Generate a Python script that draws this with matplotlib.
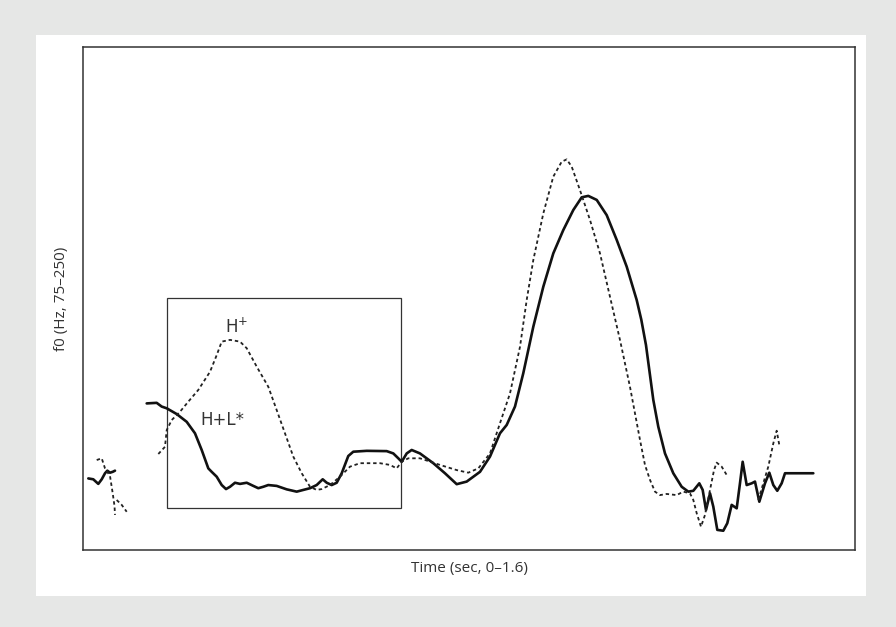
import matplotlib
matplotlib.use('Agg')
import matplotlib.pyplot as plt
import numpy as np
from matplotlib.patches import Rectangle

plt.rcParams['font.family'] = ['Open Sans', 'DejaVu Sans']
plt.rcParams['mathtext.fontset'] = 'dejavusans'

# solid contour (two pieces), time in sec, f0 in Hz
solid_t1 = [0.011, 0.0213, 0.0317, 0.0388, 0.0456, 0.0504, 0.056, 0.0616, 0.0663]
solid_f1 = [99.9, 99.6, 98.0, 99.6, 101.7, 102.6, 101.9, 102.2, 102.6]

solid_t2 = [0.1320, 0.1527, 0.1631, 0.1735, 0.1942, 0.2149, 0.2321, 0.2460, 0.2597, 0.2667,
            0.2771, 0.2875, 0.2964, 0.3047, 0.3150, 0.3254, 0.3393, 0.3530, 0.3633, 0.3737,
            0.3840, 0.4014, 0.4222, 0.4429, 0.4566, 0.4705, 0.4843, 0.4968, 0.5051, 0.5154,
            0.5258, 0.5362, 0.5498, 0.5602, 0.5880, 0.6294, 0.6431, 0.6535, 0.6605, 0.6709,
            0.6812, 0.6984, 0.7260, 0.7502, 0.7745, 0.7952, 0.8228, 0.8435, 0.8642, 0.8781,
            0.8953, 0.9125, 0.9333, 0.9540, 0.9747, 0.9954, 1.0162, 1.0336, 1.0472, 1.0647,
            1.0854, 1.1061, 1.1268, 1.1475, 1.1570, 1.1668, 1.1730, 1.1820, 1.1923, 1.2062,
            1.2234, 1.2408, 1.2545, 1.2649, 1.2773, 1.2843, 1.2912, 1.2995, 1.3063, 1.3146,
            1.3270, 1.3353, 1.3444, 1.3548, 1.3616, 1.3672, 1.3755, 1.3859, 1.3927, 1.4017,
            1.4134, 1.4224, 1.4307, 1.4389, 1.4480, 1.4549, 1.5136]
solid_f2 = [126.0, 126.2, 124.9, 124.3, 122.3, 119.6, 115.6, 109.8, 103.4, 102.2,
            100.5, 97.6, 96.2, 97.0, 98.4, 98.0, 98.4, 97.3, 96.5, 97.0,
            97.6, 97.3, 96.1, 95.3, 95.9, 96.5, 97.6, 99.6, 98.4, 97.6,
            98.4, 101.7, 107.7, 109.2, 109.5, 109.4, 108.6, 106.9, 105.7, 108.6,
            109.8, 108.6, 105.2, 101.7, 97.9, 98.8, 102.2, 107.5, 115.6, 118.5,
            124.9, 136.5, 152.7, 166.6, 178.2, 186.3, 193.3, 197.7, 198.2, 196.8,
            191.5, 182.9, 173.6, 162.0, 155.2, 146.3, 138.5, 127.2, 117.9, 108.6,
            101.7, 97.0, 95.3, 95.6, 98.2, 95.9, 88.9, 94.7, 90.1, 82.0,
            81.7, 84.3, 90.7, 89.5, 98.2, 105.7, 97.6, 98.2, 98.8, 91.8,
            98.2, 101.9, 97.6, 95.6, 98.2, 101.7, 101.7]

# dotted contour (pieces)
dot_t1 = [0.0284, 0.0388, 0.0456, 0.0560, 0.0616, 0.0653, 0.0663]
dot_f1 = [106.3, 106.9, 103.4, 100.7, 94.7, 90.3, 87.2]
dot_t2 = [0.0698, 0.0802, 0.0906]
dot_f2 = [92.4, 90.7, 88.3]

dot_t3 = [0.1561, 0.1699, 0.1735, 0.1838, 0.2010, 0.2182, 0.2390, 0.2632, 0.2771, 0.2875,
          0.3047, 0.3254, 0.3393, 0.3600, 0.3840, 0.4014, 0.4186, 0.4358, 0.4533, 0.4705,
          0.4843, 0.4947, 0.5119, 0.5326, 0.5534, 0.5741, 0.6155, 0.6363, 0.6501, 0.6605,
          0.6742, 0.6984, 0.7399, 0.7745, 0.7985, 0.8193, 0.8435, 0.8642, 0.8850, 0.9057,
          0.9196, 0.9333, 0.9540, 0.9747, 0.9921, 1.0025, 1.0128, 1.0300, 1.0508, 1.0715,
          1.0922, 1.1129, 1.1336, 1.1544, 1.1647, 1.1751, 1.1855, 1.1958, 1.2097, 1.2304,
          1.2441, 1.2580, 1.2649, 1.2719, 1.2808, 1.2891, 1.2995, 1.3078, 1.3133, 1.3237,
          1.3341]
dot_f3 = [108.4, 110.9, 116.7, 120.2, 123.1, 126.6, 130.7, 137.0, 142.8, 147.5,
          148.1, 147.5, 145.2, 138.8, 131.8, 123.7, 115.6, 107.5, 101.7, 97.0,
          95.9, 96.2, 97.6, 100.5, 104.0, 105.2, 105.2, 104.6, 103.4, 105.7,
          106.9, 106.9, 104.6, 102.8, 101.9, 103.4, 108.6, 119.1, 129.5, 145.7,
          162.0, 175.9, 192.1, 204.9, 210.1, 210.9, 208.4, 200.2, 189.8, 178.2,
          163.1, 148.1, 131.8, 113.3, 104.6, 99.4, 95.3, 94.1, 94.5, 94.1,
          95.3, 94.7, 92.4, 87.8, 83.1, 87.2, 95.9, 102.8, 105.4, 104.0,
          101.1]

dot_t4 = [1.3996, 1.4099, 1.4203, 1.4307, 1.4377, 1.4431]
dot_f4 = [92.4, 98.2, 104.0, 112.1, 116.5, 111.5]

# highlighted region and labels
box_t = [0.1735, 0.6591]
box_f = [89.5, 162.6]
labels = ['H$^{+}$', 'H+L*']
label_t = [0.318, 0.288]
label_f = [152.6, 120.2]

fig = plt.figure(figsize=(8.96, 6.27), dpi=100)
fig.patch.set_facecolor('#e6e7e6')
fig.patches.append(Rectangle((36 / 896, 1 - 596 / 627), 830 / 896, 561 / 627,
                             transform=fig.transFigure, facecolor='white',
                             edgecolor='none', zorder=-5))

ax = fig.add_axes([83 / 896, 1 - 550 / 627, 772 / 896, 503 / 627])
ax.set_zorder(2)
ax.set_xlim(0, 1.6)
ax.set_ylim(75, 250)
ax.set_xticks([])
ax.set_yticks([])
for s in ax.spines.values():
    s.set_color('#333333')
    s.set_linewidth(1.1)

solid_kw = dict(color='#111111', lw=1.9, solid_capstyle='round', solid_joinstyle='round')
dot_kw = dict(color='#222222', lw=1.3, linestyle=(0, (1.9, 1.6)))

ax.plot(solid_t1, solid_f1, **solid_kw)
ax.plot(solid_t2, solid_f2, **solid_kw)
for t, f in [(dot_t1, dot_f1), (dot_t2, dot_f2), (dot_t3, dot_f3), (dot_t4, dot_f4)]:
    ax.plot(t, f, **dot_kw)

ax.add_patch(Rectangle((box_t[0], box_f[0]), box_t[1] - box_t[0], box_f[1] - box_f[0],
                       fill=False, edgecolor='#333333', lw=0.9))

for txt, t, f in zip(labels, label_t, label_f):
    ax.text(t, f, txt, ha='center', va='center', fontsize=12, color='#333333',
            family='DejaVu Sans')

ax.set_xlabel('Time (sec, 0\u20131.6)', fontsize=11, color='#333333', labelpad=8)
ax.set_ylabel('f0 (Hz, 75\u2013250)', fontsize=11, color='#333333', labelpad=10)

fig.savefig('out.png', dpi=100, facecolor=fig.get_facecolor())
